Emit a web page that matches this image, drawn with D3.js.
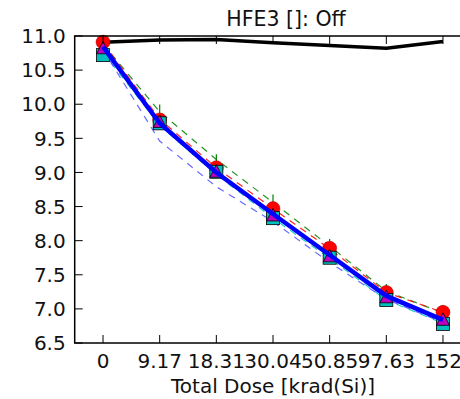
<!DOCTYPE html>
<html>
<head>
<meta charset="utf-8">
<script src="https://cdn.jsdelivr.net/npm/d3@7"></script>
<style>
  body { margin: 0; background: #fff; }
  svg { display: block; font-family: "DejaVu Sans", sans-serif; }
</style>
</head>
<body>
<div id="chart"></div>
<script>
// dose steps (categorical positions 0..6)
const doseLabels = ['0', '9.17', '18.31', '30.04', '50.85', '97.63', '152'];
const yTicks = [6.5, 7.0, 7.5, 8.0, 8.5, 9.0, 9.5, 10.0, 10.5, 11.0];

// series
const offLine = [10.91, 10.94, 10.95, 10.90, 10.86, 10.82, 10.92];
const redCircles = [10.91, 9.77, 9.07, 8.47, 7.89, 7.24, 6.95];
const cyanSquares = [10.72, 9.72, 9.01, 8.33, 7.75, 7.13, 6.78];
const magentaTriangles = [10.82, 9.74, 9.01, 8.37, 7.77, 7.17, 6.84];
const greenTicks = [10.92, 9.90, 9.17, 8.58, 7.93, 7.27, 6.96];
const blueLine = [10.84, 9.72, 9.00, 8.39, 7.79, 7.19, 6.84];
const greenDashed = [10.88, 9.89, 9.19, 8.56, 7.92, 7.26, 6.94];
const redDashed = [10.90, 9.78, 9.07, 8.47, 7.88, 7.24, 6.95];
const cyanDashed = [10.76, 9.69, 8.97, 8.33, 7.74, 7.13, 6.79];
const blueDashed = [10.80, 9.46, 8.79, 8.28, 7.68, 7.14, 6.80];

const width = 460;
const height = 399;
const plotLeft = 74.7;
const plotRight = 471.3;
const plotTop = 36;
const plotBottom = 343;
const fontSize = 20;

const svg = d3.select('#chart').append('svg')
  .attr('width', width)
  .attr('height', height);

const x = d3.scaleLinear().domain([-0.5, 6.5]).range([plotLeft, plotRight]);
const y = d3.scaleLinear().domain([6.5, 11.0]).range([plotBottom, plotTop]);

svg.append('defs').append('clipPath')
  .attr('id', 'plot')
  .append('rect')
  .attr('x', plotLeft).attr('y', plotTop)
  .attr('width', plotRight - plotLeft).attr('height', plotBottom - plotTop);

const line = d3.line().x((d, i) => x(i)).y(d => y(d));
const plot = svg.append('g');
const lines = plot.append('g').attr('clip-path', 'url(#plot)');

const dashed = [
  { data: greenDashed, color: '#008000' },
  { data: redDashed, color: '#ff0000' },
  { data: cyanDashed, color: '#00bfbf' },
  { data: blueDashed, color: '#4d4dff' }
];
dashed.forEach(s => {
  lines.append('path')
    .datum(s.data)
    .attr('d', line)
    .attr('fill', 'none')
    .attr('stroke', s.color)
    .attr('stroke-width', 1.2)
    .attr('stroke-dasharray', '7,6')
    .attr('opacity', 0.85);
});

lines.append('path')
  .datum(offLine)
  .attr('d', line)
  .attr('fill', 'none')
  .attr('stroke', '#000')
  .attr('stroke-width', 3.5);

// green vertical tick markers
plot.append('g').selectAll('path')
  .data(greenTicks)
  .enter()
  .append('path')
  .attr('d', (d, i) => `M${x(i)},${y(d) - 6.5}V${y(d) + 6.5}`)
  .attr('stroke', '#008000')
  .attr('stroke-width', 1.2);

plot.append('g').selectAll('circle')
  .data(redCircles)
  .enter()
  .append('circle')
  .attr('cx', (d, i) => x(i))
  .attr('cy', d => y(d))
  .attr('r', 7)
  .attr('fill', '#ff0000')
  .attr('stroke', '#a00')
  .attr('stroke-width', 0.5);

plot.append('g').selectAll('rect')
  .data(cyanSquares)
  .enter()
  .append('rect')
  .attr('x', (d, i) => x(i) - 6.5)
  .attr('y', d => y(d) - 6.5)
  .attr('width', 13)
  .attr('height', 13)
  .attr('fill', '#00bfbf')
  .attr('stroke', '#000')
  .attr('stroke-width', 0.8);

plot.append('g').selectAll('path')
  .data(magentaTriangles)
  .enter()
  .append('path')
  .attr('d', (d, i) => `M${x(i)},${y(d) - 7}L${x(i) + 6.5},${y(d) + 5.5}L${x(i) - 6.5},${y(d) + 5.5}Z`)
  .attr('fill', '#bf00bf')
  .attr('stroke', '#000')
  .attr('stroke-width', 0.8);

plot.append('path')
  .datum(blueLine)
  .attr('d', line)
  .attr('fill', 'none')
  .attr('stroke', '#0000ff')
  .attr('stroke-width', 4.5);

// frame
svg.append('rect')
  .attr('x', plotLeft).attr('y', plotTop)
  .attr('width', plotRight - plotLeft).attr('height', plotBottom - plotTop)
  .attr('fill', 'none')
  .attr('stroke', '#000')
  .attr('stroke-width', 1.5);

// ticks, inward on all sides
const axes = svg.append('g');
axes.selectAll('.yt')
  .data(yTicks)
  .enter()
  .append('path')
  .attr('d', d => `M${plotLeft},${y(d)}h8`)
  .attr('stroke', '#000');
axes.selectAll('.xb')
  .data(doseLabels)
  .enter()
  .append('path')
  .attr('d', (d, i) => `M${x(i)},${plotBottom}v-8M${x(i)},${plotTop}v8`)
  .attr('stroke', '#000');

axes.selectAll('.yl')
  .data(yTicks)
  .enter()
  .append('text')
  .attr('x', plotLeft - 9)
  .attr('y', d => y(d))
  .attr('dy', '0.36em')
  .attr('text-anchor', 'end')
  .attr('font-size', fontSize)
  .attr('fill', '#111')
  .text(d => d.toFixed(1));

axes.selectAll('.xl')
  .data(doseLabels)
  .enter()
  .append('text')
  .attr('x', (d, i) => x(i))
  .attr('y', plotBottom + 25)
  .attr('text-anchor', 'middle')
  .attr('font-size', fontSize)
  .attr('fill', '#111')
  .text(d => d);

svg.append('text')
  .attr('x', 273)
  .attr('y', 393)
  .attr('text-anchor', 'middle')
  .attr('font-size', fontSize)
  .attr('fill', '#111')
  .text('Total Dose [krad(Si)]');

svg.append('text')
  .attr('x', 286)
  .attr('y', 26)
  .attr('text-anchor', 'middle')
  .attr('font-size', 20.5)
  .attr('fill', '#111')
  .text('HFE3 []: Off');
</script>
</body>
</html>
